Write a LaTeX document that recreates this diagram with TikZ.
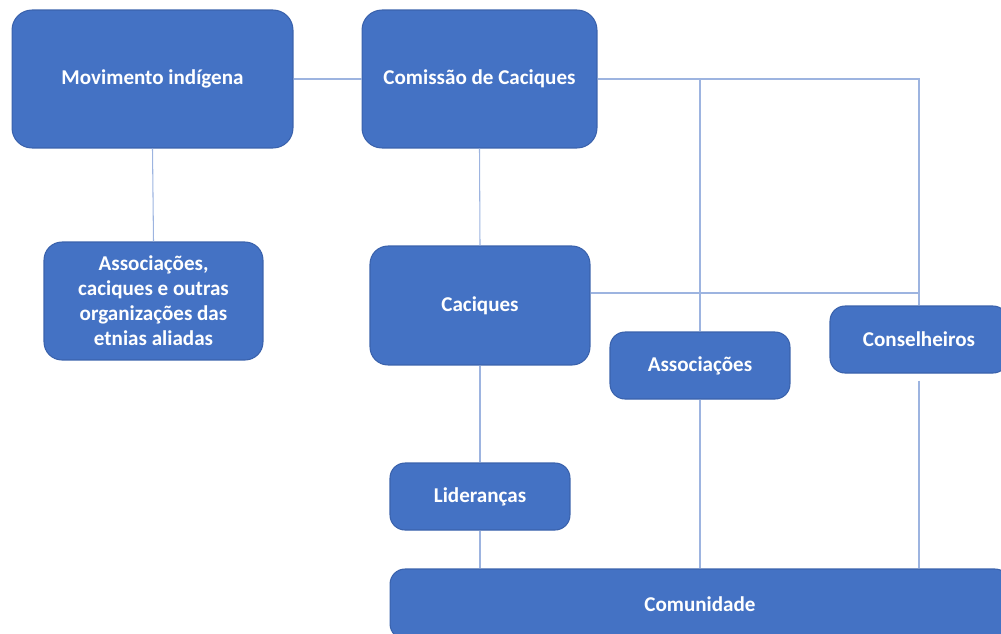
\documentclass[tikz,border=0pt]{standalone}
\usepackage{fontspec}
\setmainfont{Carlito}
\definecolor{boxfill}{HTML}{4472C4}
\definecolor{boxline}{HTML}{3A62AC}
\definecolor{linkcol}{HTML}{9DB4E0}
\begin{document}
\begin{tikzpicture}[x=0.02cm,y=-0.02cm,
    orgbox/.style={draw=boxline,fill=boxfill,line width=0.6pt,rounded corners=0.3cm,
      text=white,font=\fontsize{12}{14.2}\selectfont\bfseries,align=center,inner sep=0pt},
    link/.style={draw=linkcol,line width=0.6pt}]
    \clip (0,0) rectangle (1001,633);
    \useasboundingbox (0,0) rectangle (1001,633);
    % caixas
    \node[orgbox,rounded corners=0.4cm,minimum width=5.62cm,minimum height=2.76cm] (mov) at (152.5,79) {Movimento indígena};
    \node[orgbox,rounded corners=0.4cm,minimum width=4.7cm,minimum height=2.76cm] (comissao) at (479.5,79) {Comissão de Caciques};
    \node[orgbox,rounded corners=0.36cm,minimum width=4.38cm,minimum height=2.36cm] (aliadas) at (153.5,301) {Associações,\\caciques e outras\\organizações das\\etnias aliadas};
    \node[orgbox,rounded corners=0.36cm,minimum width=4.4cm,minimum height=2.38cm] (cac) at (480,305.5) {Caciques};
    \node[orgbox,minimum width=3.6cm,minimum height=1.34cm] (assoc) at (700,365.5) {Associações};
    \node[orgbox,minimum width=3.56cm,minimum height=1.34cm] (cons) at (919,339.5) {Conselheiros};
    \node[orgbox,minimum width=3.6cm,minimum height=1.34cm] (lid) at (480,496.5) {Lideranças};
    \node[orgbox,minimum width=12.4cm,minimum height=1.4cm] (comunidade) at (700,604) {Comunidade};
    % ligacoes
    \coordinate (cj) at (920,293);
    \draw[link] (mov.east) -- (comissao.west);
    \draw[link] (mov.south) -- (aliadas.north);
    \draw[link] (comissao.east) -| (assoc.north);
    \draw[link] (comissao.east) -| (cons.north);
    \draw[link] (comissao.south) -- (cac.north);
    \draw[link] (cac.east |- cj) -- (cj);
    \draw[link] (cac.south) -- (lid.north);
    \draw[link] (lid.south) -- (lid.south |- comunidade.north);
    \draw[link] (assoc.south) -- (assoc.south |- comunidade.north);
    \draw[link] ([yshift=-4]cons.south) -- (cons.south |- comunidade.north);
\end{tikzpicture}
\end{document}
